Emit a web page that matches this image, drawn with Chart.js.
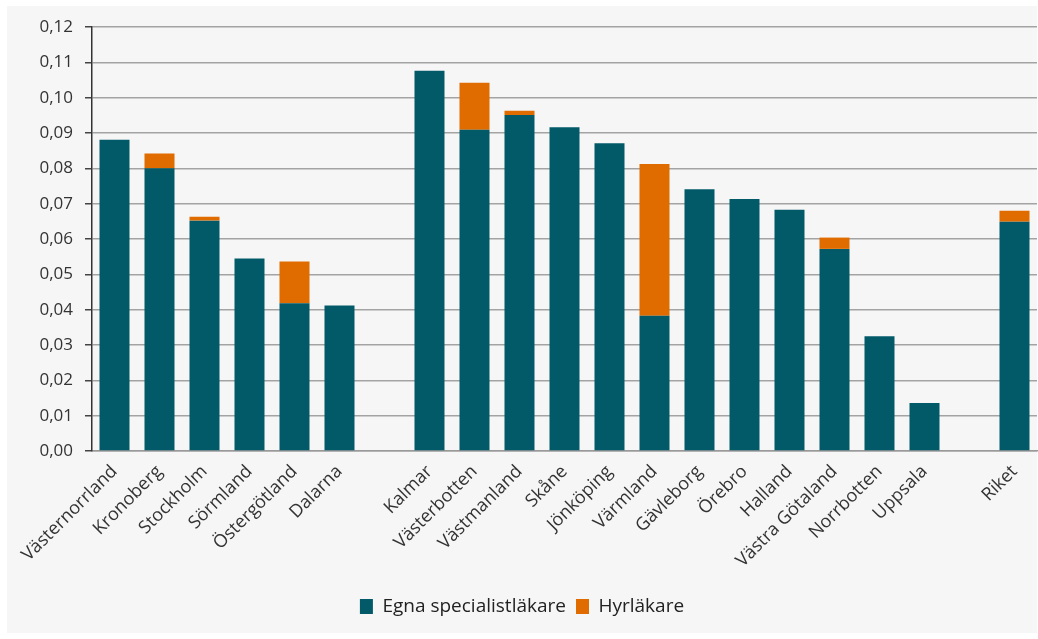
<!DOCTYPE html>
<html>
<head>
<meta charset="utf-8">
<script src="https://cdn.jsdelivr.net/npm/chart.js@4/dist/chart.umd.min.js"></script>
<style>
  html, body { margin: 0; padding: 0; background: #ffffff; }
  #wrap { width: 1038px; height: 639px; position: relative; }
</style>
</head>
<body>
<div id="wrap"><canvas id="c" width="1038" height="639"></canvas></div>
<script>
// Regions (empty labels leave a gap between groups)
const regions = [
  'Västernorrland', 'Kronoberg', 'Stockholm', 'Sörmland', 'Östergötland', 'Dalarna', '',
  'Kalmar', 'Västerbotten', 'Västmanland', 'Skåne', 'Jönköping', 'Värmland', 'Gävleborg',
  'Örebro', 'Halland', 'Västra Götaland', 'Norrbotten', 'Uppsala', '', 'Riket'
];

// Own specialists
const egnaSpecialistlakare = [
  0.0881, 0.0800, 0.0652, 0.0545, 0.0418, 0.0412, null,
  0.1076, 0.0909, 0.0951, 0.0916, 0.0871, 0.0383, 0.0741,
  0.0713, 0.0683, 0.0572, 0.0325, 0.0136, null, 0.0649
];

// Hired doctors (stacked on top)
const hyrlakare = [
  null, 0.0042, 0.0011, null, 0.0118, null, null,
  null, 0.0133, 0.0012, null, null, 0.0429, null,
  null, null, 0.0032, null, null, null, 0.0031
];

// Y axis tick values
const yTicks = [0, 0.01, 0.02, 0.03, 0.04, 0.05, 0.06, 0.07, 0.08, 0.09, 0.10, 0.11, 0.12];

const TEAL = '#025a69';
const ORANGE = '#e06c00';
const FONT = "'Open Sans', 'DejaVu Sans', sans-serif";

// Light grey panel behind the whole chart
const panelBg = {
  id: 'panelBg',
  beforeDraw(chart) {
    const ctx = chart.ctx;
    ctx.save();
    ctx.fillStyle = '#f6f6f6';
    ctx.fillRect(7, 6, 1030, 627);
    ctx.restore();
  }
};

new Chart(document.getElementById('c'), {
  type: 'bar',
  data: {
    labels: regions,
    datasets: [
      {
        label: 'Egna specialistläkare',
        data: egnaSpecialistlakare,
        backgroundColor: TEAL,
        borderWidth: 0
      },
      {
        label: 'Hyrläkare',
        data: hyrlakare,
        backgroundColor: ORANGE,
        borderWidth: 0
      }
    ]
  },
  options: {
    responsive: false,
    animation: false,
    devicePixelRatio: 1,
    layout: { padding: { left: 7, right: 1, top: 27, bottom: 13 } },
    datasets: {
      bar: { categoryPercentage: 1.0, barPercentage: 0.667 }
    },
    plugins: {
      legend: {
        position: 'bottom',
        labels: {
          font: { family: FONT, size: 19 },
          color: '#222',
          boxWidth: 13,
          boxHeight: 15,
          padding: 10
        }
      },
      tooltip: { enabled: false }
    },
    scales: {
      x: {
        stacked: true,
        grid: { display: false },
        border: { color: '#9a9a9a', width: 1.5 },
        ticks: {
          font: { family: FONT, size: 18 },
          color: '#333',
          maxRotation: 45,
          minRotation: 45,
          autoSkip: false,
          padding: 2
        },
        afterFit(scale) { scale.height = 136; }
      },
      y: {
        stacked: true,
        min: 0,
        max: 0.12,
        afterBuildTicks(scale) { scale.ticks = yTicks.map(v => ({ value: v })); },
        grid: {
          color: '#a3a3a3',
          lineWidth: 1.5,
          tickColor: '#444',
          tickLength: 7
        },
        border: { color: '#333', width: 1.5 },
        ticks: {
          font: { family: FONT, size: 17 },
          color: '#333',
          padding: 12,
          callback: v => v.toFixed(2).replace('.', ',')
        },
        afterFit(scale) { scale.width = 85; }
      }
    }
  },
  plugins: [panelBg]
});
</script>
</body>
</html>
